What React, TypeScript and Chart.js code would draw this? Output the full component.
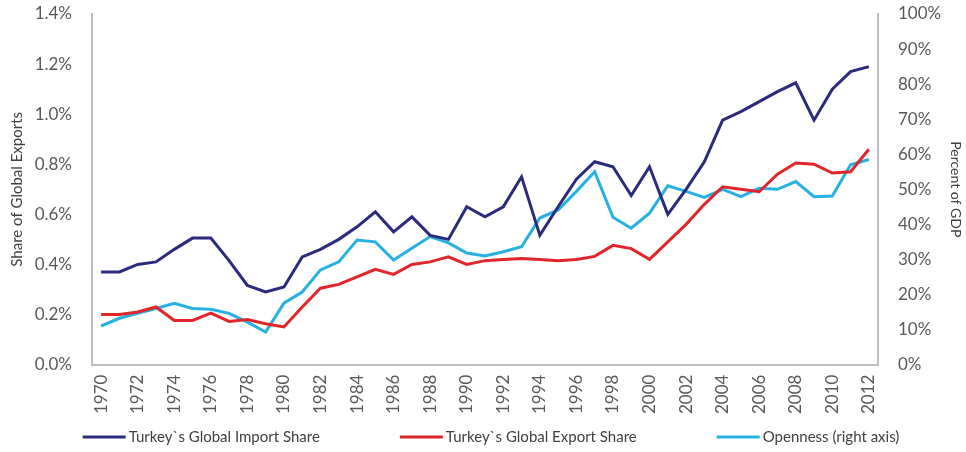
import React, { useEffect, useRef } from "react";
import { Chart, registerables } from "chart.js";

Chart.register(...registerables);

const years: string[] = [
  "1970","1971","1972","1973","1974","1975","1976","1977","1978","1979",
  "1980","1981","1982","1983","1984","1985","1986","1987","1988","1989",
  "1990","1991","1992","1993","1994","1995","1996","1997","1998","1999",
  "2000","2001","2002","2003","2004","2005","2006","2007","2008","2009",
  "2010","2011","2012",
];

const importShare: number[] = [
  0.37, 0.37, 0.40, 0.41, 0.46, 0.505, 0.505, 0.415, 0.316, 0.29,
  0.31, 0.43, 0.46, 0.50, 0.55, 0.61, 0.53, 0.59, 0.516, 0.50,
  0.63, 0.59, 0.63, 0.75, 0.516, 0.63, 0.74, 0.81, 0.79, 0.675,
  0.79, 0.60, 0.70, 0.81, 0.976, 1.01, 1.05, 1.09, 1.125, 0.976,
  1.10, 1.17, 1.19,
];

const exportShare: number[] = [
  0.20, 0.20, 0.21, 0.23, 0.176, 0.176, 0.205, 0.172, 0.18, 0.163,
  0.15, 0.23, 0.305, 0.32, 0.35, 0.38, 0.36, 0.40, 0.41, 0.43,
  0.40, 0.415, 0.42, 0.424, 0.42, 0.415, 0.42, 0.432, 0.476, 0.463,
  0.42, 0.49, 0.56, 0.64, 0.71, 0.70, 0.69, 0.76, 0.805, 0.80,
  0.765, 0.77, 0.86,
];

const openness: number[] = [
  11, 13.2, 14.6, 16, 17.5, 16, 15.8, 14.6, 12.1, 9.3,
  17.5, 20.7, 27, 29.3, 35.5, 35, 29.8, 33.2, 36.5, 34.7,
  31.8, 31, 32.2, 33.6, 41.8, 44.1, 49.4, 55, 42, 38.9,
  43.2, 51, 49.4, 47.7, 50, 47.9, 50.3, 50, 52.2, 47.9,
  48.1, 57, 58.5,
];

const seriesNames: string[] = [
  "Turkey`s Global Import Share",
  "Turkey`s Global Export Share",
  "Openness (right axis)",
];

const seriesColors: string[] = ["#2B2B7E", "#E0262B", "#27B1E3"];

const FONT = "Lato, 'Open Sans', sans-serif";
const TICK_COLOR = "#595959";
const AXIS_COLOR = "#BDBDBD";

const lineLegend = {
  id: "lineLegend",
  afterDraw(chart: any) {
    const ctx = chart.ctx as CanvasRenderingContext2D;
    const sample = 43;
    const textGap = 3;
    const gap = 80;
    const y = chart.height - 15;
    ctx.save();
    ctx.font = `15px ${FONT}`;
    const items = chart.data.datasets.map((ds: any) => ({
      text: ds.label as string,
      color: ds.borderColor as string,
      w: sample + textGap + ctx.measureText(ds.label).width,
    }));
    const total = items.reduce((s: number, it: any) => s + it.w, 0) + gap * (items.length - 1);
    const area = chart.chartArea;
    let x = (area.left + area.right) / 2 + 6 - total / 2;
    ctx.textBaseline = "middle";
    ctx.textAlign = "left";
    for (const it of items) {
      ctx.strokeStyle = it.color;
      ctx.lineWidth = 3;
      ctx.beginPath();
      ctx.moveTo(x, y);
      ctx.lineTo(x + sample, y);
      ctx.stroke();
      ctx.fillStyle = "#404040";
      ctx.fillText(it.text, x + sample + textGap, y);
      x += it.w + gap;
    }
    ctx.restore();
  },
};

export default function App() {
  const ref = useRef<HTMLCanvasElement | null>(null);

  useEffect(() => {
    if (!ref.current) return;
    const mk = (i: number, data: number[], axis: string) => ({
      label: seriesNames[i],
      data,
      borderColor: seriesColors[i],
      backgroundColor: seriesColors[i],
      borderWidth: 3,
      pointRadius: 0,
      tension: 0,
      yAxisID: axis,
    });
    const chart = new Chart(ref.current, {
      type: "line",
      data: {
        labels: years,
        datasets: [
          mk(0, importShare, "y"),
          mk(1, exportShare, "y"),
          mk(2, openness, "y1"),
        ],
      },
      plugins: [lineLegend],
      options: {
        responsive: false,
        animation: false,
        layout: { padding: { top: 0, left: 8, right: 0, bottom: 28 } },
        plugins: {
          tooltip: { enabled: false },
          legend: { display: false },
        },
        scales: {
          x: {
            offset: true,
            grid: { display: false, drawTicks: false },
            border: { display: true, color: AXIS_COLOR, width: 2 },
            ticks: {
              autoSkip: false,
              maxRotation: 90,
              minRotation: 90,
              padding: 10,
              color: TICK_COLOR,
              font: { family: FONT, size: 17 },
              callback: (_v: any, i: number) => (i % 2 === 0 ? years[i] : ""),
            },
          },
          y: {
            position: "left",
            min: 0,
            max: 1.4,
            afterFit: (s: any) => { s.width = 84; s.paddingTop = 14; s.paddingBottom = 10; },
            grid: { display: false, drawTicks: false },
            border: { display: true, color: AXIS_COLOR, width: 2 },
            ticks: {
              stepSize: 0.2,
              padding: 20,
              color: TICK_COLOR,
              font: { family: FONT, size: 17 },
              callback: (v: any) => Number(v).toFixed(1) + "%",
            },
            title: {
              display: true,
              text: "Share of Global Exports",
              color: "#404040",
              font: { family: FONT, size: 15 },
              padding: { top: 0, bottom: 0 },
            },
          },
          y1: {
            position: "right",
            min: 0,
            max: 100,
            afterFit: (s: any) => { s.width = 88; s.paddingTop = 14; s.paddingBottom = 10; },
            grid: { display: false, drawTicks: false },
            border: { display: true, color: AXIS_COLOR, width: 2 },
            ticks: {
              stepSize: 10,
              padding: 20,
              color: TICK_COLOR,
              font: { family: FONT, size: 17 },
              callback: (v: any) => Math.round(Number(v)) + "%",
            },
            title: {
              display: true,
              text: "Percent of GDP",
              color: "#404040",
              font: { family: FONT, size: 14 },
              padding: { top: 2, bottom: 0 },
            },
          },
        },
      },
    });
    return () => chart.destroy();
  }, []);

  return (
    <div style={{ position: "absolute", left: 0, top: 0, width: 966, height: 452, background: "#fff" }}>
      <canvas ref={ref} width={966} height={452} style={{ width: 966, height: 452 }} />
    </div>
  );
}
